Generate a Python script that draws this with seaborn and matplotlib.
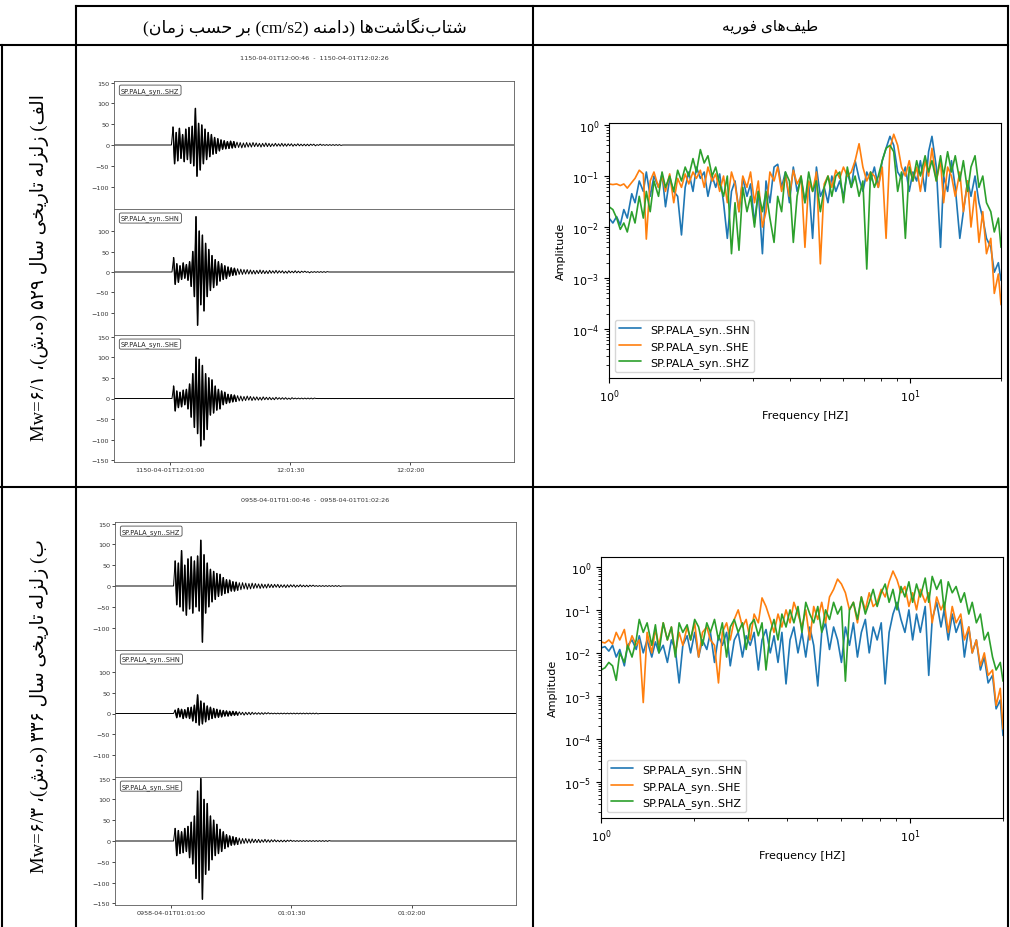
import numpy as np
import seaborn as sns
import matplotlib.pyplot as plt

W, H = 1010, 928

# ---------------- text of the table ----------------
HEAD_TRACES = "شتاب\u200cنگاشت\u200cها (دامنه (cm/s2) بر حسب زمان)"
HEAD_SPECTRA = "طیف\u200cهای فوریه"
ROW_LABELS = ["الف) زلزله تاریخی سال ۵۲۹ (ه.ش)، Mw=۶/۱",
              "ب) زلزله تاریخی سال ۳۳۶ (ه.ش)، Mw=۶/۳"]

# ---------------- seismograms ----------------
TRACE_NAMES = ["SP.PALA_syn..SHZ", "SP.PALA_syn..SHN", "SP.PALA_syn..SHE"]
TITLES = ["1150-04-01T12:00:46  -  1150-04-01T12:02:26",
          "0958-04-01T01:00:46  -  0958-04-01T01:02:26"]
TICK_SEC = [14, 44, 74]
TICK_LABELS = [["1150-04-01T12:01:00", "12:01:30", "12:02:00"],
               ["0958-04-01T01:01:00", "01:01:30", "01:02:00"]]
RECORD_LEN = 100.0
DT = 0.4
ONSETS = [[14.75, 14.9, 14.9], [15.0, 15.0, 15.0]]
YTICKS = [[-100, -50, 0, 50, 100, 150], [-100, -50, 0, 50, 100],
          [-150, -100, -50, 0, 50, 100, 150]]

A_SHZ = [43, -45, 30, -38, 40, -32, 25, -40, 38, -35, 42, -44, 45,
         -50, 88, -75, 52,
         -60, 48, -45, 38, -35, 30, -28, 25, -22, 18, -20, 15, -14, 12,
         -10, 10, -9, 8, -8, 9, -7, 8, -6, 7, -6, 6, -7, 5, -6, 6, -5, 5, -5, 6, -4, 5, -4, 4, -5, 4, -4, 5, -4, 4,
         -4, 3, -3, 4, -3, 3, -3, 4, -3, 3, -3, 3, -2, 3, -3, 2, -2, 3, -2, 2, -2, 2, -2, 2, -2, 2, -1, 2, -2, 1,
         -1, 2, -1, 1, -1, 1, -1, 1, -1, 1, -1, 1, -1, 1, -1]
A_SHN = [35, -30, 20, -25, 15, -18, 22, -15, 18, -20, 25,
         -35, 50, -60, 135, -130, 100, -80, 90, -95, 70, -60, 55,
         -45, 40, -38, 30, -32, 25, -22, 20, -18, 15, -16, 12, -10,
         10, -8, 9, -7, 8, -6, 7, -6, 6, -5, 6, -5, 5, -5, 4, -5, 4, -4, 5, -4, 4, -4, 3, -4, 4, -3,
         3, -3, 4, -3, 3, -2, 3, -3, 2, -3, 3, -2, 2, -2, 3, -2, 2, -2, 2, -1, 2, -1, 1, -2, 1, -1, 1, -1,
         1, -1, 1, -1, 1, -1, 1]
A_SHE = [30, -30, 18, -22, 15, -20, 20, -15, 22, -25,
         35, -45, 60, -70, 100, -85, 95, -115, 80, -100, 60, -75, 50,
         -40, 45, -35, 30, -28, 22, -25, 18, -15, 15, -12, 10,
         -10, 9, -8, 8, -7, 7, -6, 6, -6, 5, -5, 6, -4, 5, -5, 4, -4, 4, -4, 3, -4, 4, -3, 3,
         -3, 3, -3, 2, -3, 3, -2, 2, -2, 2, -2, 2, -2, 1, -2, 2, -1, 1, -1, 1, -1, 1, -1, 1, -1, 1, -1, 1, -1, 1]

B_SHZ = [60, -45, 55, -50, 85, -60, 50, -70, 65, -55, 70, -65, 60, -50, 72, -60, 110, -135, 75, -65,
         55, -50, 40, -38, 35, -32, 30, -25, 28, -22, 20, -18, 15, -16, 14, -12,
         10, -12, 9, -10, 8, -9, 8, -7, 7, -8, 6, -7, 7, -6, 6, -5, 5, -6, 5, -5, 4, -5, 5, -4, 4, -4,
         4, -3, 4, -4, 3, -3, 3, -4, 3, -3, 3, -2, 3, -3, 2, -2, 3, -2, 2, -2, 2, -2, 2, -1, 2, -1,
         1, -1, 1, -1, 1, -1, 1, -1, 1, -1, 1, -1, 1, -1, 1, -1]
B_SHN = [8, -10, 12, -8, 10, -12, 9, -10, 14, -12, 15, -18, 20, -22, 45, -28, 30, -25, 25, -20,
         18, -15, 15, -12, 12, -10, 10, -9, 8, -8,
         7, -6, 6, -6, 5, -5, 5, -4, 4, -4, 4, -3, 3, -4, 3, -3, 3, -3, 3, -2,
         2, -2, 2, -2, 2, -2, 2, -1, 2, -1, 1, -1, 1, -1, 1, -1, 1, -1, 1, -1, 1, -1, 1, -1, 1, -1,
         1, -1, 1, -1, 1, -1, 1, -1, 1, -1, 1, -1, 1, -1]
B_SHE = [30, -35, 25, -30, 22, -28, 30, -25, 35, -40, 45, -55, 60, -90, 120, -100, 150, -140, 100, -80, 90, -70, 60,
         -45, 50, -35, 40, -30, 28, -25, 22, -18, 15, -14, 12,
         -10, 10, -9, 8, -8, 7, -7, 6, -6, 6, -5, 5, -5, 5, -4, 4, -4, 4, -4, 3, -3, 4, -3, 3,
         -3, 3, -2, 3, -2, 2, -2, 2, -2, 2, -2, 2, -1, 2, -1, 1, -1, 1, -1, 1, -1, 1, -1, 1, -1, 1,
         -1, 1, -1, 1, -1, 1, -1, 1, -1, 1, -1, 1]

TRACES = [[A_SHZ, A_SHN, A_SHE], [B_SHZ, B_SHN, B_SHE]]

# ---------------- Fourier spectra ----------------
SPEC_NAMES = ["SP.PALA_syn..SHN", "SP.PALA_syn..SHE", "SP.PALA_syn..SHZ"]
FREQ = [1.00, 1.03, 1.06, 1.09, 1.12, 1.15, 1.19, 1.22, 1.26, 1.30,
        1.33, 1.37, 1.41, 1.46, 1.50, 1.54, 1.59, 1.64, 1.69, 1.74,
        1.79, 1.84, 1.90, 1.95, 2.01, 2.07, 2.13, 2.20, 2.26, 2.33,
        2.40, 2.47, 2.55, 2.62, 2.70, 2.78, 2.87, 2.95, 3.04, 3.13,
        3.23, 3.32, 3.42, 3.53, 3.63, 3.74, 3.85, 3.97, 4.09, 4.21,
        4.34, 4.47, 4.60, 4.74, 4.88, 5.03, 5.18, 5.33, 5.49, 5.66,
        5.83, 6.00, 6.18, 6.37, 6.56, 6.76, 6.96, 7.17, 7.38, 7.60,
        7.83, 8.07, 8.31, 8.56, 8.81, 9.08, 9.35, 9.63, 9.92, 10.2,
        10.5, 10.8, 11.2, 11.5, 11.8, 12.2, 12.6, 12.9, 13.3, 13.7,
        14.1, 14.6, 15.0, 15.5, 15.9, 16.4, 16.9, 17.4, 17.9, 18.5,
        19.0, 19.6, 20.0]

SPEC_A_SHN = [0.015, 0.012, 0.016, 0.011, 0.022, 0.015, 0.045, 0.030, 0.08, 0.05,
              0.12, 0.04, 0.10, 0.06, 0.11, 0.025, 0.09, 0.05, 0.04, 0.007,
              0.06, 0.12, 0.05, 0.15, 0.09, 0.12, 0.04, 0.10, 0.06, 0.11,
              0.03, 0.006, 0.05, 0.08, 0.02, 0.09, 0.04, 0.07, 0.012, 0.05,
              0.003, 0.08, 0.03, 0.15, 0.17, 0.06, 0.12, 0.03, 0.15, 0.05,
              0.09, 0.03, 0.07, 0.006, 0.15, 0.04, 0.06, 0.03, 0.10, 0.05,
              0.08, 0.04, 0.12, 0.06, 0.20, 0.09, 0.05, 0.12, 0.08, 0.15,
              0.06, 0.20, 0.35, 0.60, 0.40, 0.12, 0.09, 0.15, 0.05, 0.12,
              0.08, 0.20, 0.05, 0.30, 0.60, 0.15, 0.004, 0.10, 0.05, 0.20,
              0.06, 0.006, 0.02, 0.08, 0.04, 0.10, 0.03, 0.015, 0.006, 0.004,
              0.0013, 0.002, 0.0009]
SPEC_A_SHE = [0.07, 0.068, 0.07, 0.065, 0.07, 0.058, 0.075, 0.09, 0.13, 0.11,
              0.0058, 0.08, 0.12, 0.06, 0.10, 0.05, 0.11, 0.03, 0.09, 0.06,
              0.11, 0.07, 0.12, 0.09, 0.13, 0.06, 0.15, 0.08, 0.11, 0.05,
              0.10, 0.03, 0.12, 0.07, 0.02, 0.10, 0.06, 0.12, 0.03, 0.08,
              0.01, 0.02, 0.12, 0.08, 0.15, 0.05, 0.10, 0.04, 0.13, 0.07,
              0.10, 0.004, 0.08, 0.05, 0.12, 0.0019, 0.07, 0.10, 0.06, 0.13,
              0.09, 0.15, 0.10, 0.12, 0.20, 0.43, 0.15, 0.08, 0.12, 0.10,
              0.06, 0.15, 0.006, 0.35, 0.66, 0.40, 0.15, 0.10, 0.20, 0.08,
              0.15, 0.05, 0.20, 0.10, 0.35, 0.08, 0.20, 0.03, 0.15, 0.10,
              0.04, 0.12, 0.02, 0.08, 0.01, 0.05, 0.005, 0.02, 0.003, 0.006,
              0.0005, 0.0012, 0.0003]
SPEC_A_SHZ = [0.025, 0.022, 0.015, 0.009, 0.012, 0.008, 0.02, 0.012, 0.04, 0.015,
              0.05, 0.02, 0.08, 0.04, 0.12, 0.06, 0.10, 0.05, 0.13, 0.08,
              0.15, 0.10, 0.22, 0.12, 0.33, 0.18, 0.25, 0.10, 0.15, 0.07,
              0.04, 0.10, 0.003, 0.03, 0.0035, 0.06, 0.02, 0.04, 0.01, 0.05,
              0.02, 0.05, 0.015, 0.005, 0.04, 0.02, 0.12, 0.08, 0.005, 0.04,
              0.10, 0.03, 0.12, 0.05, 0.08, 0.02, 0.06, 0.10, 0.04, 0.10,
              0.12, 0.03, 0.15, 0.06, 0.10, 0.04, 0.08, 0.0015, 0.12, 0.06,
              0.10, 0.20, 0.35, 0.40, 0.30, 0.05, 0.12, 0.006, 0.15, 0.08,
              0.20, 0.10, 0.25, 0.12, 0.20, 0.08, 0.25, 0.10, 0.30, 0.12,
              0.25, 0.08, 0.20, 0.05, 0.15, 0.25, 0.06, 0.10, 0.03, 0.02,
              0.008, 0.015, 0.004]

SPEC_B_SHN = [0.013, 0.014, 0.011, 0.015, 0.008, 0.012, 0.005, 0.015, 0.02, 0.012,
              0.025, 0.01, 0.02, 0.008, 0.018, 0.01, 0.015, 0.006, 0.02, 0.012,
              0.002, 0.015, 0.025, 0.01, 0.03, 0.008, 0.02, 0.012, 0.03, 0.006,
              0.025, 0.015, 0.03, 0.005, 0.02, 0.03, 0.008, 0.025, 0.015, 0.03,
              0.004, 0.02, 0.035, 0.01, 0.025, 0.006, 0.03, 0.0019, 0.02, 0.04,
              0.01, 0.03, 0.008, 0.04, 0.015, 0.0017, 0.03, 0.05, 0.012, 0.04,
              0.02, 0.006, 0.04, 0.015, 0.05, 0.008, 0.03, 0.06, 0.01, 0.04,
              0.02, 0.05, 0.0019, 0.03, 0.08, 0.15, 0.06, 0.03, 0.10, 0.02,
              0.08, 0.03, 0.12, 0.003, 0.06, 0.15, 0.04, 0.10, 0.02, 0.08,
              0.03, 0.06, 0.008, 0.04, 0.01, 0.02, 0.004, 0.008, 0.002, 0.003,
              0.0005, 0.0008, 0.00012]
SPEC_B_SHE = [0.018, 0.017, 0.02, 0.016, 0.03, 0.02, 0.035, 0.012, 0.025, 0.015,
              0.02, 0.0007, 0.03, 0.01, 0.035, 0.015, 0.05, 0.02, 0.04, 0.01,
              0.03, 0.015, 0.04, 0.02, 0.05, 0.008, 0.03, 0.04, 0.02, 0.015,
              0.002, 0.03, 0.05, 0.02, 0.06, 0.10, 0.04, 0.06, 0.02, 0.08,
              0.05, 0.19, 0.12, 0.06, 0.03, 0.08, 0.04, 0.10, 0.05, 0.15,
              0.08, 0.04, 0.10, 0.02, 0.12, 0.06, 0.15, 0.05, 0.20, 0.30,
              0.52, 0.40, 0.25, 0.10, 0.15, 0.05, 0.20, 0.10, 0.25, 0.12,
              0.15, 0.30, 0.20, 0.45, 0.80, 0.50, 0.25, 0.35, 0.12, 0.25,
              0.10, 0.30, 0.15, 0.25, 0.05, 0.20, 0.10, 0.15, 0.03, 0.12,
              0.05, 0.08, 0.02, 0.04, 0.01, 0.02, 0.005, 0.01, 0.003, 0.004,
              0.0006, 0.0015, 0.00017]
SPEC_B_SHZ = [0.004, 0.0045, 0.006, 0.005, 0.0023, 0.01, 0.006, 0.015, 0.008, 0.02,
              0.06, 0.03, 0.05, 0.015, 0.045, 0.01, 0.05, 0.02, 0.04, 0.008,
              0.05, 0.03, 0.045, 0.02, 0.06, 0.04, 0.015, 0.05, 0.03, 0.06,
              0.02, 0.05, 0.008, 0.04, 0.06, 0.03, 0.05, 0.012, 0.045, 0.06,
              0.025, 0.05, 0.004, 0.03, 0.06, 0.02, 0.08, 0.04, 0.10, 0.05,
              0.12, 0.03, 0.15, 0.08, 0.05, 0.12, 0.03, 0.10, 0.06, 0.15,
              0.08, 0.12, 0.0022, 0.10, 0.15, 0.06, 0.20, 0.08, 0.15, 0.30,
              0.12, 0.25, 0.40, 0.15, 0.30, 0.10, 0.35, 0.20, 0.45, 0.15,
              0.40, 0.20, 0.55, 0.15, 0.60, 0.30, 0.50, 0.10, 0.45, 0.25,
              0.35, 0.15, 0.25, 0.08, 0.15, 0.05, 0.08, 0.02, 0.03, 0.008,
              0.004, 0.006, 0.0022]

SPECTRA = [[SPEC_A_SHN, SPEC_A_SHE, SPEC_A_SHZ], [SPEC_B_SHN, SPEC_B_SHE, SPEC_B_SHZ]]
SPEC_YLIM = [(10 ** -4.96, 10 ** 0.04), (10 ** -5.84, 10 ** 0.23)]

# ---------------- minimal Persian shaping (matplotlib has no bidi) ----------------
FA_FORMS = {
    'ا': ('\uFE8D', '\uFE8E'), 'د': ('\uFEA9', '\uFEAA'), 'ر': ('\uFEAD', '\uFEAE'),
    'ز': ('\uFEAF', '\uFEB0'), 'و': ('\uFEED', '\uFEEE'),
    'ب': ('\uFE8F', '\uFE90', '\uFE91', '\uFE92'), 'ت': ('\uFE95', '\uFE96', '\uFE97', '\uFE98'),
    'ح': ('\uFEA1', '\uFEA2', '\uFEA3', '\uFEA4'), 'خ': ('\uFEA5', '\uFEA6', '\uFEA7', '\uFEA8'),
    'س': ('\uFEB1', '\uFEB2', '\uFEB3', '\uFEB4'), 'ش': ('\uFEB5', '\uFEB6', '\uFEB7', '\uFEB8'),
    'ط': ('\uFEC1', '\uFEC2', '\uFEC3', '\uFEC4'), 'ف': ('\uFED1', '\uFED2', '\uFED3', '\uFED4'),
    'ل': ('\uFEDD', '\uFEDE', '\uFEDF', '\uFEE0'), 'م': ('\uFEE1', '\uFEE2', '\uFEE3', '\uFEE4'),
    'ن': ('\uFEE5', '\uFEE6', '\uFEE7', '\uFEE8'), 'ه': ('\uFEE9', '\uFEEA', '\uFEEB', '\uFEEC'),
    'ی': ('\uFBFC', '\uFBFD', '\uFBFE', '\uFBFF'), 'گ': ('\uFB92', '\uFB93', '\uFB94', '\uFB95'),
}
MIRROR = {'(': ')', ')': '('}


def visual_order(s):
    def strong(c):
        if c.isascii() and c.isalnum():
            return 'L'
        if '\u06f0' <= c <= '\u06f9':
            return 'L'
        if '\u0600' <= c <= '\u06ff' or '\ufb50' <= c <= '\ufeff':
            return 'R'
        return None
    dirs = [strong(c) for c in s]
    runs = []
    for i, c in enumerate(s):
        d = dirs[i]
        if d is None:
            before = next((x for x in reversed(dirs[:i]) if x), 'R')
            after = next((x for x in dirs[i + 1:] if x), 'R')
            d = 'L' if before == after == 'L' else 'R'
        if runs and runs[-1][0] == d:
            runs[-1][1].append(c)
        else:
            runs.append([d, [c]])
    out = []
    for d, chars in reversed(runs):
        if d == 'R':
            out.append(''.join(MIRROR.get(c, c) for c in reversed(chars)))
        else:
            out.append(''.join(chars))
    return ''.join(out)


def fa(text):
    out = []
    for i, ch in enumerate(text):
        forms = FA_FORMS.get(ch)
        if forms is None:
            if ch != '\u200c':
                out.append(ch)
            continue
        prev = text[i - 1] if i > 0 else ''
        nxt = text[i + 1] if i + 1 < len(text) else ''
        jp = prev in FA_FORMS and len(FA_FORMS[prev]) == 4
        jn = len(forms) == 4 and nxt in FA_FORMS
        out.append(forms[3] if jp and jn else forms[1] if jp else forms[2] if jn else forms[0])
    return visual_order(''.join(out))


def frame(l, t, r, b):
    return [l / W, 1 - b / H, (r - l) / W, (b - t) / H]


sns.set_style("ticks", {"axes.edgecolor": "black", "xtick.color": "black",
                        "ytick.color": "black", "text.color": "black",
                        "axes.labelcolor": "black"})
plt.rcParams['font.family'] = ['DejaVu Sans']
SERIF = ['Liberation Serif', 'DejaVu Sans']

fig = plt.figure(figsize=(W / 100, H / 100), dpi=100)

# table grid
bg = fig.add_axes([0, 0, 1, 1], zorder=-5)
bg.set_xlim(0, W)
bg.set_ylim(H, 0)
bg.axis('off')
for (x1, y1, x2, y2) in [(76, 7, 1008, 7), (0, 46, 1008, 46), (0, 488, 1008, 488),
                         (76, 7, 76, H), (533, 7, 533, H), (1008, 7, 1008, H), (1.5, 46, 1.5, H)]:
    bg.plot([x1, x2], [y1, y2], color='black', lw=1.5, solid_capstyle='projecting')

bg.text(305, 27, fa(HEAD_TRACES), family=SERIF, fontsize=12.5, ha='center', va='center')
bg.text(770, 27, fa(HEAD_SPECTRA), family=SERIF, fontsize=11, ha='center', va='center')
for label, yc in zip(ROW_LABELS, [268, 706]):
    bg.text(40, yc, fa(label), family=SERIF, fontsize=13.5, rotation=90,
            ha='center', va='center')

# seismogram blocks
SEIS_LAYOUT = [dict(l=114, r=514, tops=[82, 210, 336, 463], title_y=59),
               dict(l=115, r=516, tops=[523, 651, 778, 906], title_y=501)]
BURST_SAMPLES = 40  # strong-motion part drawn with a heavier pen
for ev, lay in enumerate(SEIS_LAYOUT):
    bg.text((lay['l'] + lay['r']) / 2, lay['title_y'], TITLES[ev], fontsize=4.6,
            color='0.2', ha='center', va='center')
    axes = []
    for k in range(3):
        ax = fig.add_axes(frame(lay['l'], lay['tops'][k], lay['r'], lay['tops'][k + 1]),
                          sharex=axes[0] if axes else None)
        axes.append(ax)
        vals = np.array(TRACES[ev][k], dtype=float)
        t = ONSETS[ev][k] + DT * np.arange(len(vals))
        x = np.concatenate([[0.0, ONSETS[ev][k] - DT], t, [t[-1] + DT, RECORD_LEN]])
        y = np.concatenate([[0.0, 0.0], vals, [0.0, 0.0]])
        sns.lineplot(x=x, y=y, ax=ax, color='black', lw=0.7, estimator=None, sort=False)
        sns.lineplot(x=t[:BURST_SAMPLES], y=vals[:BURST_SAMPLES], ax=ax, color='black',
                     lw=1.1, estimator=None, sort=False)
        ax.set_xlim(0, RECORD_LEN)
        ax.set_ylim(-154, 154)
        ax.set_yticks(YTICKS[k])
        ax.tick_params(labelsize=4.6, length=2, width=0.5, pad=1.5, labelcolor='0.2')
        for sp in ax.spines.values():
            sp.set_linewidth(0.6)
            sp.set_color('0.35')
        ax.text(0.0175, 0.955, TRACE_NAMES[k], transform=ax.transAxes, fontsize=4.8,
                ha='left', va='top', color='0.15',
                bbox=dict(boxstyle='round,pad=0.25', fc='white', ec='0.3', lw=0.6))
        if k < 2:
            ax.tick_params(labelbottom=False, bottom=False)
    axes[2].set_xticks(TICK_SEC)
    axes[2].set_xticklabels(TICK_LABELS[ev])

# spectra
palette = sns.color_palette("tab10")[:3]
SPEC_LAYOUT = [(609, 124, 1001, 379), (601, 558, 1003, 819)]
for ev, box in enumerate(SPEC_LAYOUT):
    ax = fig.add_axes(frame(*box))
    for name, amp, col in zip(SPEC_NAMES, SPECTRA[ev], palette):
        sns.lineplot(x=FREQ, y=amp, ax=ax, color=col, lw=1.2, label=name,
                     estimator=None, sort=False)
    ax.set_xscale('log')
    ax.set_yscale('log')
    ax.set_xlim(1, 20)
    ax.set_ylim(*SPEC_YLIM[ev])
    ax.set_xlabel('Frequency [HZ]', fontsize=8)
    ax.set_ylabel('Amplitude', fontsize=8)
    ax.tick_params(labelsize=8)
    ax.legend(loc='lower left', fontsize=8)

fig.savefig('out.png', dpi=100)
